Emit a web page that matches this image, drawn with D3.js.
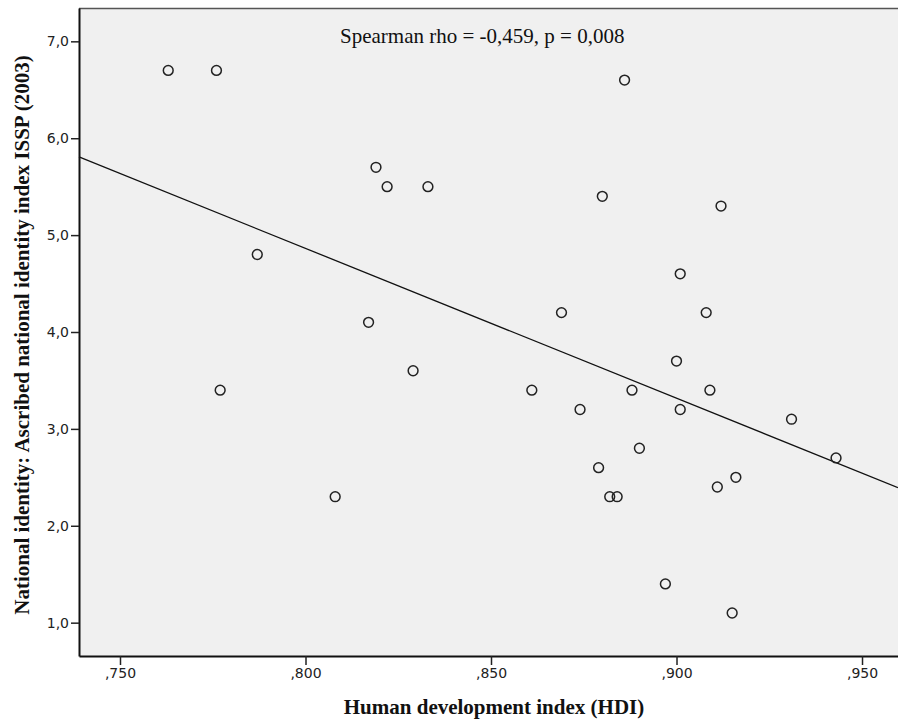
<!DOCTYPE html>
<html>
<head>
<meta charset="utf-8">
<script src="https://cdn.jsdelivr.net/npm/d3@7"></script>
<style>
  body { margin: 0; background: #fff; }
  svg { display: block; }
</style>
</head>
<body>
<div id="chart"></div>
<script>
// HDI per country and ascribed national identity index (ISSP 2003)
const hdi = [
  0.763, 0.776, 0.886, 0.819, 0.822, 0.833, 0.880, 0.912,
  0.787, 0.901, 0.869, 0.908, 0.817, 0.900, 0.829, 0.777,
  0.861, 0.888, 0.909, 0.874, 0.901, 0.931, 0.890, 0.943,
  0.879, 0.916, 0.911, 0.808, 0.882, 0.884, 0.897, 0.915
];
const identity = [
  6.7, 6.7, 6.6, 5.7, 5.5, 5.5, 5.4, 5.3,
  4.8, 4.6, 4.2, 4.2, 4.1, 3.7, 3.6, 3.4,
  3.4, 3.4, 3.4, 3.2, 3.2, 3.1, 2.8, 2.7,
  2.6, 2.5, 2.4, 2.3, 2.3, 2.3, 1.4, 1.1
];
const xTicks = [0.75, 0.80, 0.85, 0.90, 0.95];
const yTicks = [1, 2, 3, 4, 5, 6, 7];
const annotation = 'Spearman rho = -0,459, p = 0,008';

const width = 898, height = 721;
const margin = { top: 8, right: 0, bottom: 65, left: 79 };
const innerW = width - margin.left - margin.right;
const innerH = height - margin.top - margin.bottom;

const svg = d3.select('#chart')
  .append('svg')
  .attr('width', width)
  .attr('height', height);

const x = d3.scaleLinear().domain([0.73895, 0.9597]).range([0, innerW]);
const y = d3.scaleLinear().domain([0.656, 7.344]).range([innerH, 0]);

const g = svg.append('g')
  .attr('transform', `translate(${margin.left},${margin.top})`);

g.append('rect')
  .attr('width', innerW)
  .attr('height', innerH)
  .attr('fill', '#f0f0f0');

// top frame line
g.append('line')
  .attr('x1', 0).attr('x2', innerW)
  .attr('y1', 0.5).attr('y2', 0.5)
  .attr('stroke', '#555')
  .attr('stroke-width', 1.5);

const fmt = (d, digits) => d.toFixed(digits).replace('.', ',').replace(/^0/, '');

const tickFont = '"DejaVu Sans", sans-serif';

const xAxis = g.append('g')
  .attr('transform', `translate(0,${innerH})`)
  .call(d3.axisBottom(x).tickValues(xTicks).tickSizeInner(9).tickSizeOuter(0)
    .tickPadding(3).tickFormat((d) => fmt(d, 3)));
const yAxis = g.append('g')
  .call(d3.axisLeft(y).tickValues(yTicks).tickSizeInner(8).tickSizeOuter(0)
    .tickPadding(2).tickFormat((d) => d.toFixed(1).replace('.', ',')));

[xAxis, yAxis].forEach((ax) => {
  ax.select('.domain').attr('stroke', '#111').attr('stroke-width', 2);
  ax.selectAll('.tick line').attr('stroke', '#222').attr('stroke-width', 1.5);
  ax.selectAll('text')
    .attr('fill', '#222')
    .style('font-family', tickFont)
    .style('font-size', '14px');
});

// least squares fit line
const mx = d3.mean(hdi), my = d3.mean(identity);
let sxy = 0, sxx = 0;
hdi.forEach((v, i) => {
  sxy += (v - mx) * (identity[i] - my);
  sxx += (v - mx) * (v - mx);
});
const slope = sxy / sxx;
const intercept = my - slope * mx;
const [x0, x1] = x.domain();

g.append('line')
  .attr('x1', x(x0)).attr('y1', y(intercept + slope * x0))
  .attr('x2', x(x1)).attr('y2', y(intercept + slope * x1))
  .attr('stroke', '#111')
  .attr('stroke-width', 1.3);

g.selectAll('circle.pt')
  .data(hdi.map((v, i) => ({ hdi: v, identity: identity[i] })))
  .enter()
  .append('circle')
  .attr('class', 'pt')
  .attr('cx', (d) => x(d.hdi))
  .attr('cy', (d) => y(d.identity))
  .attr('r', 4.9)
  .attr('fill', 'none')
  .attr('stroke', '#222')
  .attr('stroke-width', 1.5);

g.append('text')
  .attr('x', 261)
  .attr('y', 35)
  .style('font-family', '"Liberation Serif", "Times New Roman", serif')
  .style('font-size', '21px')
  .attr('fill', '#111')
  .text(annotation);

svg.append('text')
  .attr('x', 494)
  .attr('y', 714)
  .attr('text-anchor', 'middle')
  .style('font-family', '"Liberation Serif", "Times New Roman", serif')
  .style('font-size', '21px')
  .style('font-weight', 'bold')
  .attr('fill', '#111')
  .text('Human development index (HDI)');

svg.append('text')
  .attr('transform', `translate(29,${335}) rotate(-90)`)
  .attr('text-anchor', 'middle')
  .style('font-family', '"Liberation Serif", "Times New Roman", serif')
  .style('font-size', '21px')
  .style('font-weight', 'bold')
  .attr('fill', '#111')
  .text('National identity: Ascribed national identity index ISSP (2003)');
</script>
</body>
</html>
